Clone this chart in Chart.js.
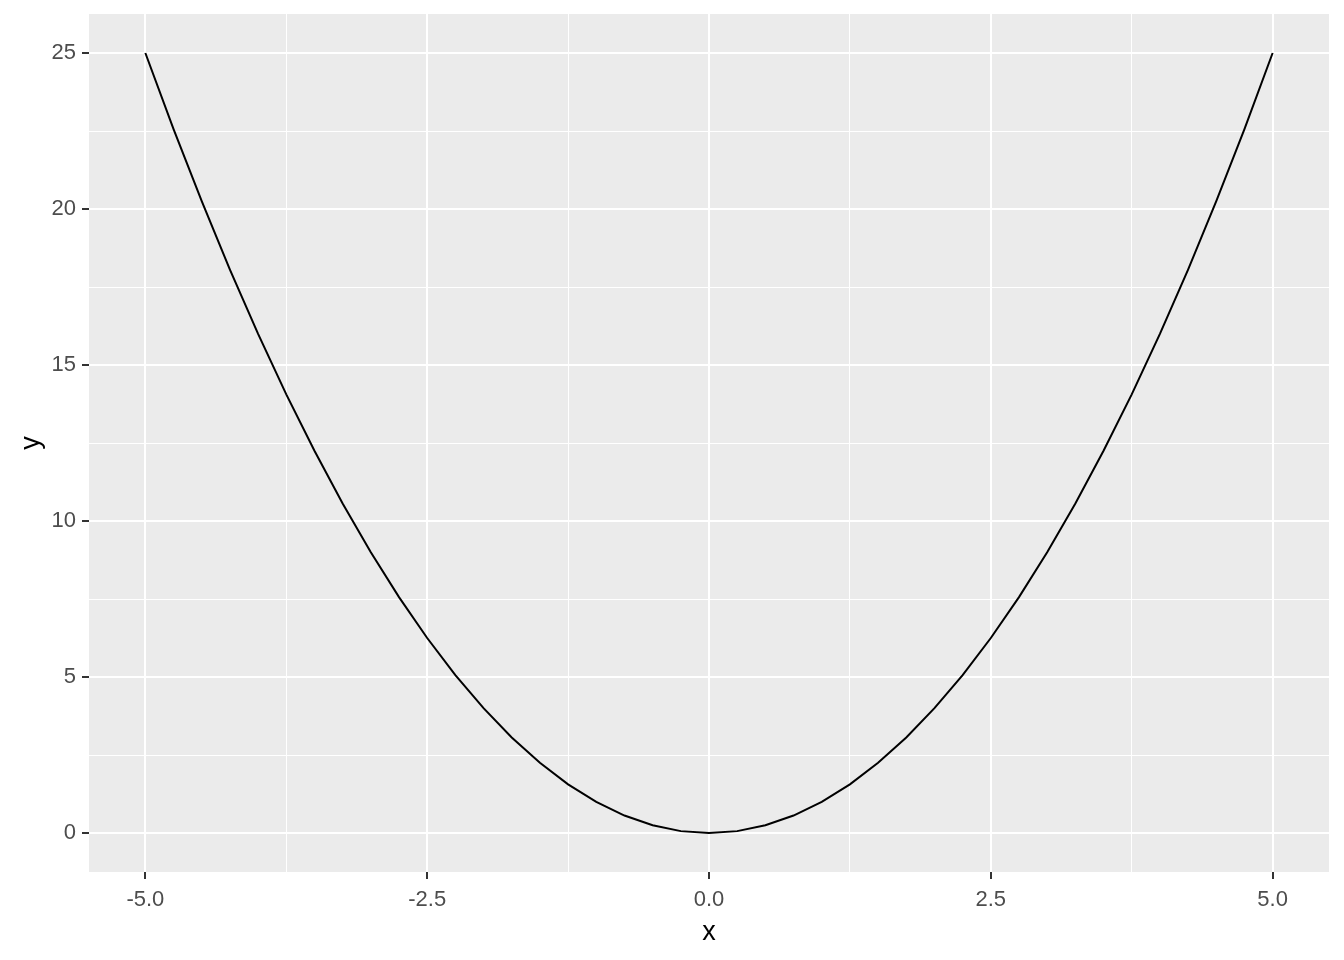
<!DOCTYPE html>
<html>
<head>
<meta charset="utf-8">
<script src="https://cdn.jsdelivr.net/npm/chart.js@4/dist/chart.umd.min.js"></script>
<style>
  html, body { margin: 0; padding: 0; background: #fff; }
  #wrap { width: 1344px; height: 960px; }
</style>
</head>
<body>
<div id="wrap"><canvas id="chart" width="1344" height="960"></canvas></div>
<script>
// values
const xValues = [-5, -4.75, -4.5, -4.25, -4, -3.75, -3.5, -3.25, -3, -2.75, -2.5, -2.25, -2, -1.75, -1.5, -1.25, -1, -0.75, -0.5, -0.25,
  0, 0.25, 0.5, 0.75, 1, 1.25, 1.5, 1.75, 2, 2.25, 2.5, 2.75, 3, 3.25, 3.5, 3.75, 4, 4.25, 4.5, 4.75, 5];
const yValues = [25, 22.56, 20.25, 18.06, 16, 14.06, 12.25, 10.56, 9, 7.56, 6.25, 5.06, 4, 3.06, 2.25, 1.56, 1, 0.56, 0.25, 0.06,
  0, 0.06, 0.25, 0.56, 1, 1.56, 2.25, 3.06, 4, 5.06, 6.25, 7.56, 9, 10.56, 12.25, 14.06, 16, 18.06, 20.25, 22.56, 25];
const xTicks = [-5, -3.75, -2.5, -1.25, 0, 1.25, 2.5, 3.75, 5];
const xMajor = [-5, -2.5, 0, 2.5, 5];
const yTicks = [0, 2.5, 5, 7.5, 10, 12.5, 15, 17.5, 20, 22.5, 25];
const yMajor = [0, 5, 10, 15, 20, 25];

const points = xValues.map((x, i) => ({ x: x, y: yValues[i] }));

const panelBg = {
  id: 'panelBg',
  beforeDraw(chart) {
    const a = chart.chartArea;
    const ctx = chart.ctx;
    ctx.save();
    ctx.fillStyle = '#EBEBEB';
    ctx.fillRect(a.left, a.top, a.right - a.left, a.bottom - a.top);
    ctx.restore();
  }
};

const isMajor = (list, v) => list.some(m => Math.abs(m - v) < 1e-9);
const FONT = 'Liberation Sans, Arial, sans-serif';

new Chart(document.getElementById('chart'), {
  type: 'line',
  data: {
    datasets: [{
      data: points,
      borderColor: '#000000',
      borderWidth: 2,
      pointRadius: 0,
      tension: 0,
      fill: false
    }]
  },
  options: {
    responsive: false,
    animation: false,
    layout: { padding: { left: 0, right: 15, top: 14, bottom: 11 } },
    plugins: { legend: { display: false }, tooltip: { enabled: false } },
    scales: {
      x: {
        type: 'linear',
        min: -5.5,
        max: 5.5,
        afterBuildTicks: s => { s.ticks = xTicks.map(v => ({ value: v })); },
        afterFit: s => { s.height = 77; s.paddingLeft = 0; s.paddingRight = 0; },
        border: { display: false },
        grid: {
          color: '#FFFFFF',
          lineWidth: c => isMajor(xMajor, c.tick.value) ? 2 : 1,
          tickLength: 7,
          tickWidth: 2,
          tickColor: c => isMajor(xMajor, c.tick.value) ? '#333333' : 'rgba(0,0,0,0)'
        },
        ticks: {
          color: '#4D4D4D',
          font: { family: FONT, size: 22 },
          padding: 8,
          maxRotation: 0,
          autoSkip: false,
          callback: v => isMajor(xMajor, v) ? v.toFixed(1) : ''
        },
        title: {
          display: true,
          text: 'x',
          color: '#000000',
          font: { family: FONT, size: 27 },
          padding: { top: 0, bottom: 0 }
        }
      },
      y: {
        type: 'linear',
        min: -1.25,
        max: 26.25,
        afterBuildTicks: s => { s.ticks = yTicks.map(v => ({ value: v })); },
        afterFit: s => { s.width = 89; s.paddingTop = 0; s.paddingBottom = 0; },
        border: { display: false },
        grid: {
          color: '#FFFFFF',
          lineWidth: c => isMajor(yMajor, c.tick.value) ? 2 : 1,
          tickLength: 7,
          tickWidth: 2,
          tickColor: c => isMajor(yMajor, c.tick.value) ? '#333333' : 'rgba(0,0,0,0)'
        },
        ticks: {
          color: '#4D4D4D',
          font: { family: FONT, size: 22 },
          padding: 6,
          autoSkip: false,
          callback: v => isMajor(yMajor, v) ? String(v) : ''
        },
        title: {
          display: true,
          text: 'y',
          color: '#000000',
          font: { family: FONT, size: 27 },
          padding: { top: 15, bottom: 0 }
        }
      }
    }
  },
  plugins: [panelBg]
});
</script>
</body>
</html>
